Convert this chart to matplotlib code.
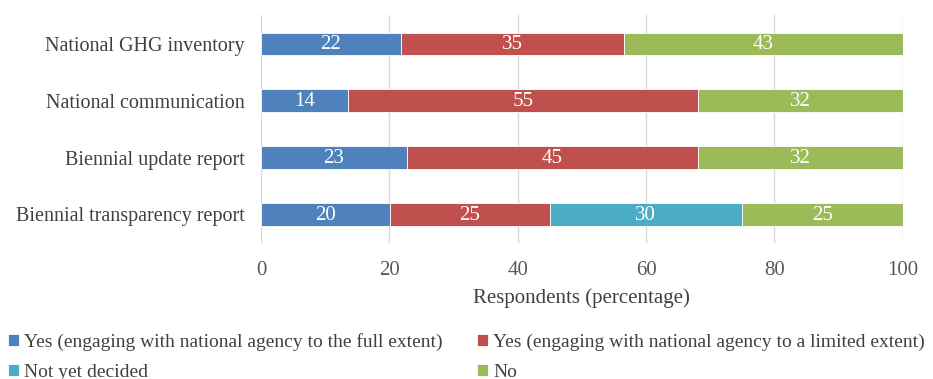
import matplotlib.pyplot as plt
import numpy as np

plt.rcParams['font.family'] = ['Liberation Serif', 'DejaVu Serif']

categories = ["National GHG inventory", "National communication",
              "Biennial update report", "Biennial transparency report"]
series_names = ["Yes (engaging with national agency to the full extent)",
                "Yes (engaging with national agency to a limited extent)",
                "Not yet decided", "No"]
full_extent = [21.8, 13.6, 22.7, 20.1]
limited_extent = [34.7, 54.5, 45.4, 24.9]
not_decided = [0, 0, 0, 29.9]
no = [43.5, 31.9, 31.9, 25.1]
labels_full = [22, 14, 23, 20]
labels_limited = [35, 55, 45, 25]
labels_undecided = [None, None, None, 30]
labels_no = [43, 32, 32, 25]
colors = ['#4F81BD', '#C0504D', '#4BACC6', '#9BBB59']

fig = plt.figure(figsize=(9.33, 3.79), dpi=100)
ax = fig.add_axes([0.2797, 0.359, 0.688, 0.601])

y = np.arange(len(categories))
left = np.zeros(len(categories))
series = [full_extent, limited_extent, not_decided, no]
labels = [labels_full, labels_limited, labels_undecided, labels_no]
handles = []
for vals, labs, col, name in zip(series, labels, colors, series_names):
    vals = np.array(vals)
    h = ax.barh(y, vals, left=left, height=0.39, color=col, edgecolor='white',
                linewidth=0.6, label=name, zorder=2)
    handles.append(h)
    for i, (v, lab) in enumerate(zip(vals, labs)):
        if lab is not None and v > 0:
            ax.text(left[i] + v / 2, y[i] + 0.02, str(lab), ha='center', va='center',
                    color='white', fontsize=15, zorder=3)
    left += vals

ax.set_xlim(0, 100)
ax.set_ylim(3.5, -0.5)
ax.set_yticks(y)
ax.set_yticklabels(categories, fontsize=14.5, color='#404040')
ax.set_xticks([0, 20, 40, 60, 80, 100])
ax.tick_params(axis='x', labelsize=15, colors='#595959', length=0, pad=13)
ax.tick_params(axis='y', length=0, pad=11.5)
ax.grid(axis='x', color='#D9D9D9', linewidth=1, zorder=0)
for s in ax.spines.values():
    s.set_visible(False)
ax.set_xlabel("Respondents (percentage)", fontsize=15, color='#404040', labelpad=6)

# row-major order like the original legend
order = [0, 2, 1, 3]
fig.legend([handles[i] for i in order], [series_names[i] for i in order],
           loc='lower left', bbox_to_anchor=(-0.01, -0.052), ncol=2, frameon=False,
           fontsize=14, handlelength=0.55, handleheight=0.55, handletextpad=0.25,
           columnspacing=1.8, labelspacing=0.7, labelcolor='#404040')

fig.savefig("out.png", dpi=100)
